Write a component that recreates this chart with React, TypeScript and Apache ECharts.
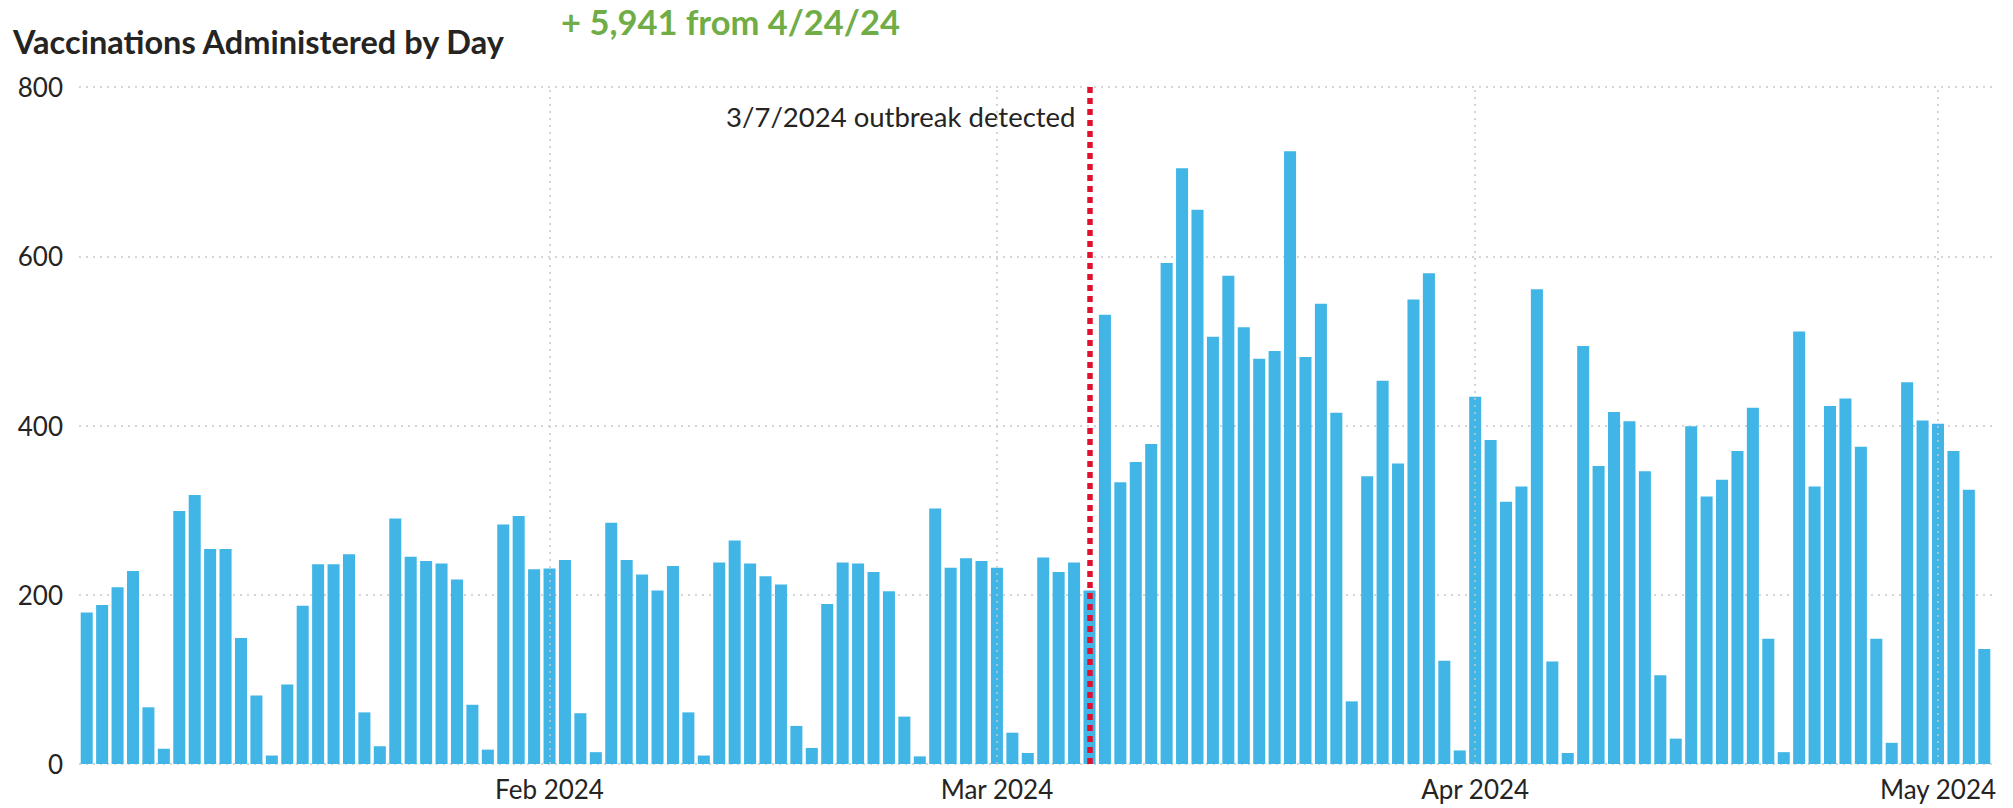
import React, { useEffect, useRef } from 'react';
import * as echarts from 'echarts';

// ---- data ----
const startDate = '2024-01-02';
const dayCount = 124;
const values = [
  179, 188, 209, 228, 67, 18, 299, 318, 254, 254, 149, 81, 10, 94, 187, 236, 236,
  248, 61, 21, 290, 245, 240, 237, 218, 70, 17, 283, 293, 230, 231, 241, 60, 14, 285, 241, 224, 205, 234,
  61, 10, 238, 264, 237, 222, 212, 45, 19, 189, 238, 237, 227, 204, 56, 9, 302, 232, 243, 240, 232,
  37, 13, 244, 227, 238, 205, 531, 333, 357, 378, 592, 704, 655, 505, 577, 516, 479, 488, 724, 481, 544,
  415, 74, 340, 453, 355, 549, 580, 122, 16, 434, 383, 310, 328, 561, 121, 13, 494, 352, 416, 405, 346, 105,
  30, 399, 316, 336, 370, 421, 148, 14, 511, 328, 423, 432, 375, 148, 25, 451, 406, 402, 370, 324, 136,
];
const monthStarts = ['2024-02-01', '2024-03-01', '2024-04-01', '2024-05-01'];
const monthNames = ['Jan', 'Feb', 'Mar', 'Apr', 'May', 'Jun', 'Jul', 'Aug', 'Sep', 'Oct', 'Nov', 'Dec'];
const yMin = 0;
const yMax = 800;
const yInterval = 200;
const outbreakDate = '2024-03-07';
const outbreakLabel = '3/7/2024 outbreak detected';
const titleText = 'Vaccinations Administered by Day';
const deltaText = '+ 5,941 from 4/24/24';

function buildDates(): string[] {
  const [y, m, d] = startDate.split('-').map(Number);
  const t0 = Date.UTC(y, m - 1, d);
  const out: string[] = [];
  for (let i = 0; i < dayCount; i++) {
    out.push(new Date(t0 + i * 86400000).toISOString().slice(0, 10));
  }
  return out;
}
const dates = buildDates();

const FONT = "'Segoe UI', Lato, 'Open Sans', sans-serif";
const TEXT_COLOR = '#252423';
const GRID_COLOR = '#C8C8C8';

export default function App() {
  const ref = useRef<HTMLDivElement>(null);
  useEffect(() => {
    if (!ref.current) return;
    const chart = echarts.init(ref.current, undefined, { renderer: 'svg' });
    chart.setOption({
      animation: false,
      backgroundColor: '#ffffff',
      grid: { left: 79, right: 21, top: 87, bottom: 44, containLabel: false },
      xAxis: {
        type: 'category',
        data: dates,
        boundaryGap: true,
        axisLine: { show: false },
        axisTick: { show: false },
        splitLine: { show: false },
        axisLabel: {
          interval: (_i: number, v: string) => v.endsWith('-01'),
          formatter: (v: string) => `${monthNames[Number(v.slice(5, 7)) - 1]} ${v.slice(0, 4)}`,
          fontSize: 26,
          fontFamily: FONT,
          color: TEXT_COLOR,
          margin: 12,
        },
      },
      yAxis: {
        type: 'value',
        min: yMin,
        max: yMax,
        interval: yInterval,
        axisLine: { show: false },
        axisTick: { show: false },
        axisLabel: { fontSize: 26, fontFamily: FONT, color: TEXT_COLOR, margin: 16 },
        splitLine: { show: true, lineStyle: { type: [2, 5], color: GRID_COLOR, width: 1.5 } },
      },
      series: [
        {
          type: 'line',
          data: [],
          z: 1,
          silent: true,
          markLine: {
            silent: true,
            symbol: ['none', 'none'],
            label: { show: false },
            lineStyle: { type: [2, 5], color: GRID_COLOR, width: 1.5 },
            data: monthStarts.map((d) => ({ xAxis: d })),
          },
        },
        {
          type: 'bar',
          data: values,
          barCategoryGap: '22%',
          itemStyle: { color: '#41B6E6' },
          z: 2,
        },
        {
          type: 'line',
          data: [],
          z: 5,
          silent: true,
          markLine: {
            silent: true,
            symbol: ['none', 'none'],
            label: { show: false },
            lineStyle: { type: [6, 5], color: '#E0102F', width: 5.5 },
            data: [{ xAxis: outbreakDate }],
          },
        },
      ],
    });
    const px = chart.convertToPixel({ xAxisIndex: 0 }, outbreakDate) as number;
    chart.setOption({
      graphic: [
        {
          type: 'text',
          left: 13,
          top: 25,
          style: { text: titleText, font: `bold 32.5px ${FONT}`, fill: TEXT_COLOR },
        },
        {
          type: 'text',
          left: 561,
          top: 4,
          style: { text: deltaText, font: `bold 34.5px ${FONT}`, fill: '#70AD47' },
        },
        {
          type: 'text',
          x: px - 14,
          y: 116,
          style: {
            text: outbreakLabel,
            font: `27.5px ${FONT}`,
            fill: TEXT_COLOR,
            align: 'right',
            verticalAlign: 'middle',
          },
        },
      ],
    });
    return () => chart.dispose();
  }, []);
  return (
    <div
      ref={ref}
      style={{ position: 'absolute', left: 0, top: 0, width: 2013, height: 808 }}
    />
  );
}
